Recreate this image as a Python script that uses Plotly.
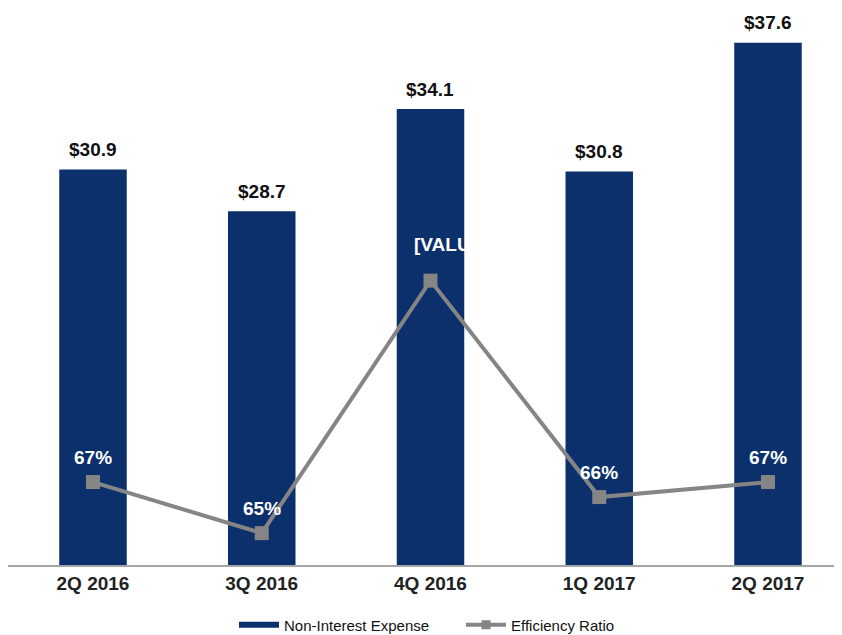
import plotly.graph_objects as go

categories = ["2Q 2016", "3Q 2016", "4Q 2016", "1Q 2017", "2Q 2017"]
expense = [30.9, 28.7, 34.1, 30.8, 37.6]
expense_labels = ["$30.9", "$28.7", "$34.1", "$30.8", "$37.6"]
efficiency = [67.0, 65.3, 73.7, 66.5, 67.0]
efficiency_labels = ["67%", "65%", "[VALUE]", "66%", "67%"]

BLUE = "#0B306C"
GRAY = "#858585"
FONT = "Liberation Sans, Arial, sans-serif"

x = list(range(len(categories)))

fig = go.Figure()
fig.add_trace(go.Bar(
    x=x, y=expense, name="Non-Interest Expense",
    marker=dict(color=BLUE, line=dict(width=0)),
    width=0.4, showlegend=False,
))
fig.add_trace(go.Scatter(
    x=x, y=efficiency, name="Efficiency Ratio", yaxis="y2",
    mode="lines+markers",
    line=dict(color=GRAY, width=4),
    marker=dict(symbol="square", size=14, color=GRAY),
    showlegend=False, cliponaxis=False,
))
# legend entries
fig.add_trace(go.Scatter(
    x=[None], y=[None], mode="lines", name="Non-Interest Expense",
    line=dict(color=BLUE, width=6),
))
fig.add_trace(go.Scatter(
    x=[None], y=[None], mode="lines+markers", name="Efficiency Ratio",
    line=dict(color=GRAY, width=4), marker=dict(symbol="square", size=9, color=GRAY),
))

annotations = []
for i, (v, t) in enumerate(zip(expense, expense_labels)):
    annotations.append(dict(x=i, y=v, xref="x", yref="y", text=t, showarrow=False,
                            yanchor="middle", yshift=20,
                            font=dict(family=FONT, size=19, color="#111111", weight="bold")))
for i, (v, t) in enumerate(zip(efficiency, efficiency_labels)):
    if t.startswith("["):
        annotations.append(dict(x=i, y=v, xref="x", yref="y2", text=t, showarrow=False,
                                xanchor="left", xshift=-18, yanchor="middle", yshift=36,
                                font=dict(family=FONT, size=19, color="white", weight="bold")))
    else:
        annotations.append(dict(x=i, y=v, xref="x", yref="y2", text=t, showarrow=False,
                                yanchor="middle", yshift=25,
                                font=dict(family=FONT, size=19, color="white", weight="bold")))

fig.update_layout(
    width=842, height=635,
    margin=dict(l=0, r=0, t=0, b=78),
    paper_bgcolor="white", plot_bgcolor="white",
    font=dict(family=FONT, color="#222222"),
    showlegend=True,
    legend=dict(orientation="h", x=0.538, xanchor="center", y=-0.1077, yanchor="middle",
                font=dict(family=FONT, size=15, color="#111111"), itemwidth=40,
                entrywidth=172, entrywidthmode="pixels",
                traceorder="normal"),
    xaxis=dict(range=[-0.5037, 4.486], tickvals=x, ticktext=categories,
               showline=True, linecolor="#A6A6A6", linewidth=2,
               showgrid=False, zeroline=False, ticks="",
               tickfont=dict(family=FONT, size=19, color="#222222", weight="bold")),
    yaxis=dict(range=[10, 39.44], visible=False, showgrid=False),
    yaxis2=dict(range=[64.24, 82.77], overlaying="y", visible=False, showgrid=False),
    annotations=annotations,
)

fig.write_html("out.html")
